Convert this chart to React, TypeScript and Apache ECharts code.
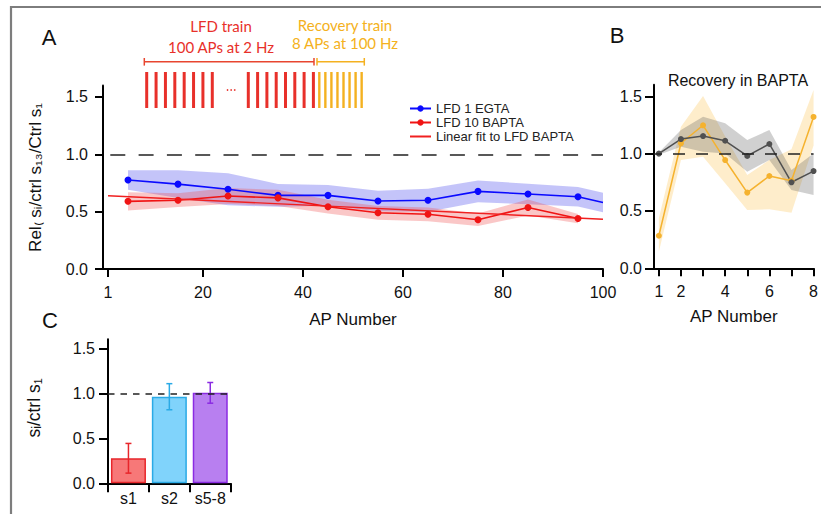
import React, { useEffect, useRef } from "react";
import * as echarts from "echarts";

const FONT = '"Liberation Sans", Arial, Helvetica, sans-serif';
const INK = "#111";

// ---- Panel A: low-frequency depression (LFD) train, binned every 10 APs ----
const EGTA_AP = [5, 15, 25, 35, 45, 55, 65, 75, 85, 95, 100];
const EGTA_MEAN = [0.776, 0.74, 0.695, 0.642, 0.642, 0.593, 0.599, 0.677, 0.654, 0.63, 0.58];
const EGTA_SEM = [0.085, 0.12, 0.14, 0.1, 0.09, 0.09, 0.1, 0.095, 0.09, 0.085, 0.085];
const BAPTA_AP = [5, 15, 25, 35, 45, 55, 65, 75, 85, 95];
const BAPTA_MEAN = [0.59, 0.6, 0.636, 0.62, 0.543, 0.49, 0.477, 0.43, 0.537, 0.44];
const BAPTA_SEM = [0.08, 0.06, 0.07, 0.07, 0.06, 0.06, 0.06, 0.055, 0.07, 0.04];
const FIT_AP = [1, 100];
const FIT_VALUE = [0.639, 0.434];
const A_X_TICKS = [1, 20, 40, 60, 80, 100];
const Y_TICKS = [0, 0.5, 1, 1.5];

// ---- Panel B: recovery train in BAPTA ----
const REC_AP = [1, 2, 3, 4, 5, 6, 7, 8];
const REC_X_LABELS = [1, 2, 4, 6, 8];
const CTRL_MEAN = [1.0, 1.127, 1.153, 1.112, 0.98, 1.084, 0.75, 0.848];
const CTRL_LO = [0.99, 1.06, 1.017, 1.0, 0.842, 0.944, 0.683, 0.639];
const CTRL_HI = [1.01, 1.206, 1.322, 1.264, 1.119, 1.206, 0.857, 1.0];
const REC_MEAN = [0.284, 1.09, 1.247, 0.944, 0.66, 0.805, 0.764, 1.32];
const REC_LO = [0.145, 0.944, 0.973, 0.741, 0.508, 0.514, 0.485, 1.07];
const REC_HI = [0.436, 1.235, 1.502, 1.15, 0.813, 0.944, 1.037, 1.555];

// ---- Panel C: summary bars ----
const C_CATS = ["s1", "s2", "s5-8"];
const C_MEAN = [0.278, 0.962, 1.005];
const C_ERR = [0.165, 0.145, 0.115];
const C_FILL = ["#f77878", "#80d3fb", "#b87ff0"];
const C_EDGE = ["#e8262b", "#2aaae6", "#8a2be2"];

function band(xs: number[], lo: number[], hi: number[], color: string, axis: number) {
  return {
    type: "custom",
    xAxisIndex: axis,
    yAxisIndex: axis,
    silent: true,
    z: 1,
    data: xs.map((x, i) => [x, lo[i], hi[i]]),
    renderItem: (params: any, api: any) => {
      if (params.dataIndex !== 0) return null;
      const upper = xs.map((x, i) => api.coord([x, hi[i]]));
      const lower = xs.map((x, i) => api.coord([x, lo[i]])).reverse();
      return {
        type: "polygon",
        shape: { points: upper.concat(lower) },
        style: { fill: color },
        silent: true,
      };
    },
  };
}

function yAxis(gridIndex: number, margin: number, tickLen: number) {
  return {
    type: "value",
    gridIndex,
    min: 0,
    max: 1.6,
    axisLine: { show: true, onZero: false, lineStyle: { color: "#000", width: 2 } },
    axisTick: { show: true, length: tickLen, customValues: Y_TICKS, lineStyle: { color: "#000", width: 2 } },
    axisLabel: {
      customValues: Y_TICKS,
      formatter: (v: number) => v.toFixed(1),
      fontSize: 16,
      color: INK,
      margin,
      fontFamily: FONT,
    },
    splitLine: { show: false },
  };
}

function unityLine(dash: number[], offset: number) {
  return {
    silent: true,
    symbol: ["none", "none"],
    label: { show: false },
    lineStyle: { type: dash, dashOffset: offset, color: "#222", width: 1.6 },
    emphasis: { disabled: true },
    data: [{ yAxis: 1 }],
  };
}

function txt(x: number, y: number, text: string, size: number, fill: string, extra: any = {}) {
  return {
    type: "text",
    x,
    y,
    silent: true,
    ...extra,
    style: {
      text,
      fontSize: size,
      fontFamily: extra.fontFamily || FONT,
      fill,
      align: "center",
      verticalAlign: "middle",
      textAlign: "center",
      textVerticalAlign: "middle",
    },
  };
}

function stimulusGraphics() {
  const red = "#e8302a";
  const orange = "#f4b120";
  const out: any[] = [];
  const pulse = (cx: number, w: number, color: string) =>
    out.push({ type: "rect", silent: true, shape: { x: cx - w / 2, y: 72, width: w, height: 36 }, style: { fill: color } });
  for (let i = 0; i < 8; i++) pulse(146.7 + i * 9.37, 3, red);
  for (let i = 0; i < 8; i++) pulse(248.3 + i * 9.3, 3, red);
  for (let i = 0; i < 8; i++) pulse(319.3 + i * 6.05, 2.4, orange);
  for (let i = 0; i < 3; i++)
    out.push({ type: "circle", silent: true, shape: { cx: 227.5 + i * 3.6, cy: 90, r: 0.8 }, style: { fill: red } });
  const bracket = (x1: number, x2: number, color: string) => {
    const s = { stroke: color, lineWidth: 1.5 };
    out.push({ type: "line", silent: true, shape: { x1, y1: 61.7, x2, y2: 61.7 }, style: s });
    out.push({ type: "line", silent: true, shape: { x1, y1: 58, x2: x1, y2: 65.6 }, style: s });
    out.push({ type: "line", silent: true, shape: { x1: x2, y1: 58, x2, y2: 65.6 }, style: s });
  };
  bracket(144.3, 314, "#e8452f");
  bracket(317, 364.3, orange);
  out.push(txt(221, 26, "LFD train", 15, red, { fontFamily: "Lato, sans-serif" }));
  out.push(txt(221, 46.7, "100 APs at 2 Hz", 15, red, { fontFamily: "Lato, sans-serif" }));
  out.push(txt(345, 25, "Recovery train", 15, orange, { fontFamily: "Lato, sans-serif" }));
  out.push(txt(345, 42.5, "8 APs at 100 Hz", 15, orange, { fontFamily: "Lato, sans-serif" }));
  return out;
}

function buildOption(): any {
  const lastEgta = EGTA_AP.length - 1;
  return {
    animation: false,
    textStyle: { fontFamily: FONT },
    grid: [
      { left: 103, top: 85.5, width: 500, height: 183.5 },
      { left: 654, top: 84.8, width: 162, height: 183.5 },
      { left: 108, top: 339.3, width: 122.7, height: 144 },
    ],
    xAxis: [
      {
        type: "value",
        gridIndex: 0,
        min: 0,
        max: 100,
        axisLine: { show: true, onZero: false, lineStyle: { color: "#000", width: 2 } },
        axisTick: { show: true, length: 8, customValues: A_X_TICKS, lineStyle: { color: "#000", width: 2 } },
        axisLabel: { customValues: A_X_TICKS, fontSize: 16, color: INK, margin: 15, fontFamily: FONT },
        splitLine: { show: false },
        name: "AP Number",
        nameLocation: "middle",
        nameGap: 42,
        nameTextStyle: { fontSize: 17, color: INK, fontFamily: FONT },
      },
      {
        type: "value",
        gridIndex: 1,
        min: 0.78,
        max: 8,
        axisLine: { show: true, onZero: false, lineStyle: { color: "#000", width: 2 } },
        axisTick: { show: true, length: 8, customValues: REC_AP, lineStyle: { color: "#000", width: 2 } },
        axisLabel: { customValues: REC_X_LABELS, fontSize: 16, color: INK, margin: 15, fontFamily: FONT },
        splitLine: { show: false },
        name: "AP Number",
        nameLocation: "middle",
        nameGap: 40,
        nameTextStyle: { fontSize: 17, color: INK, fontFamily: FONT },
      },
      {
        type: "category",
        gridIndex: 2,
        data: C_CATS,
        axisLine: { show: true, onZero: false, lineStyle: { color: "#000", width: 2 } },
        axisTick: { show: true, length: 9, alignWithLabel: false, lineStyle: { color: "#000", width: 2 } },
        axisLabel: { fontSize: 16, color: INK, margin: 7, fontFamily: FONT },
        splitLine: { show: false },
      },
    ],
    yAxis: [yAxis(0, 15, 8), yAxis(1, 12, 9), yAxis(2, 13, 9)],
    legend: {
      left: 404,
      top: 97,
      orient: "vertical",
      itemWidth: 21,
      itemHeight: 8,
      itemGap: 1,
      selectedMode: false,
      textStyle: { fontSize: 13, color: "#222", fontFamily: FONT },
      data: [
        "LFD 1 EGTA",
        "LFD 10 BAPTA",
        { name: "Linear fit to LFD BAPTA", itemStyle: { opacity: 0 }, lineStyle: { opacity: 1 } },
      ],
    },
    series: [
      band(EGTA_AP, EGTA_MEAN.map((m, i) => m - EGTA_SEM[i]), EGTA_MEAN.map((m, i) => m + EGTA_SEM[i]), "rgba(70,70,235,0.32)", 0),
      band(BAPTA_AP, BAPTA_MEAN.map((m, i) => m - BAPTA_SEM[i]), BAPTA_MEAN.map((m, i) => m + BAPTA_SEM[i]), "rgba(240,70,70,0.3)", 0),
      {
        type: "line",
        name: "LFD 1 EGTA",
        xAxisIndex: 0,
        yAxisIndex: 0,
        color: "#0a0aff",
        symbol: "circle",
        symbolSize: 7,
        lineStyle: { width: 1.6 },
        data: EGTA_AP.map((x, i) => (i === lastEgta ? { value: [x, EGTA_MEAN[i]], symbol: "none" } : [x, EGTA_MEAN[i]])),
        markLine: unityLine([15, 13.3], 21.3),
        z: 3,
      },
      {
        type: "line",
        name: "LFD 10 BAPTA",
        xAxisIndex: 0,
        yAxisIndex: 0,
        color: "#f01414",
        symbol: "circle",
        symbolSize: 7,
        lineStyle: { width: 1.6 },
        data: BAPTA_AP.map((x, i) => [x, BAPTA_MEAN[i]]),
        z: 3,
      },
      {
        type: "line",
        name: "Linear fit to LFD BAPTA",
        xAxisIndex: 0,
        yAxisIndex: 0,
        color: "#f02020",
        symbol: "none",
        showSymbol: false,
        lineStyle: { width: 1.4 },
        data: FIT_AP.map((x, i) => [x, FIT_VALUE[i]]),
        z: 3,
      },
      band(REC_AP, REC_LO, REC_HI, "rgba(250,190,70,0.28)", 1),
      band(REC_AP, CTRL_LO, CTRL_HI, "rgba(80,80,80,0.27)", 1),
      {
        type: "line",
        name: "recovery BAPTA",
        xAxisIndex: 1,
        yAxisIndex: 1,
        color: "#f5b22e",
        symbol: "circle",
        symbolSize: 6,
        lineStyle: { width: 1.5 },
        data: REC_AP.map((x, i) => [x, REC_MEAN[i]]),
        markLine: unityLine([12, 11], 4),
        z: 3,
      },
      {
        type: "line",
        name: "recovery control",
        xAxisIndex: 1,
        yAxisIndex: 1,
        color: "#505050",
        symbol: "circle",
        symbolSize: 6,
        lineStyle: { width: 1.5 },
        data: REC_AP.map((x, i) => [x, CTRL_MEAN[i]]),
        z: 3,
      },
      {
        type: "bar",
        xAxisIndex: 2,
        yAxisIndex: 2,
        barWidth: 35,
        data: C_MEAN.map((v, i) => ({
          value: v,
          itemStyle: { color: C_FILL[i], borderColor: C_EDGE[i], borderWidth: 1.5 },
        })),
        markLine: unityLine([6.5, 6], 0),
      },
      {
        type: "custom",
        xAxisIndex: 2,
        yAxisIndex: 2,
        silent: true,
        z: 4,
        data: C_CATS.map((c, i) => [c, C_MEAN[i] - C_ERR[i], C_MEAN[i] + C_ERR[i]]),
        renderItem: (params: any, api: any) => {
          const i = params.dataIndex;
          const x = api.value(0);
          const lo = api.coord([x, api.value(1)]);
          const hi = api.coord([x, api.value(2)]);
          const s = { stroke: C_EDGE[i], lineWidth: 1.5 };
          const w = 3;
          return {
            type: "group",
            children: [
              { type: "line", shape: { x1: hi[0], y1: hi[1], x2: lo[0], y2: lo[1] }, style: s },
              { type: "line", shape: { x1: hi[0] - w, y1: hi[1], x2: hi[0] + w, y2: hi[1] }, style: s },
              { type: "line", shape: { x1: lo[0] - w, y1: lo[1], x2: lo[0] + w, y2: lo[1] }, style: s },
            ],
          };
        },
      },
    ],
    graphic: [
      {
        type: "rect",
        silent: true,
        shape: { x: 11, y: 7, width: 900, height: 600 },
        style: { fill: "none", stroke: "#7d7d7d", lineWidth: 2.2 },
      },
      txt(49, 37, "A", 22, INK),
      txt(617, 35, "B", 22, INK),
      txt(50, 320, "C", 22, INK),
      txt(738, 80, "Recovery in BAPTA", 16, INK),
      txt(35.5, 177.5, "Rel₍ sᵢ/ctrl s₁₃/Ctrl s₁", 17, INK, { rotation: Math.PI / 2 }),
      txt(34, 408, "sᵢ/ctrl s₁", 17.5, INK, { rotation: Math.PI / 2 }),
      ...stimulusGraphics(),
    ],
  };
}

export default function App() {
  const ref = useRef<HTMLDivElement>(null);
  useEffect(() => {
    const chart = echarts.init(ref.current!, null, { renderer: "svg" });
    chart.setOption(buildOption());
    return () => chart.dispose();
  }, []);
  return (
    <div
      ref={ref}
      style={{ position: "fixed", left: 0, top: 0, width: 821, height: 514, background: "#fff" }}
    />
  );
}
